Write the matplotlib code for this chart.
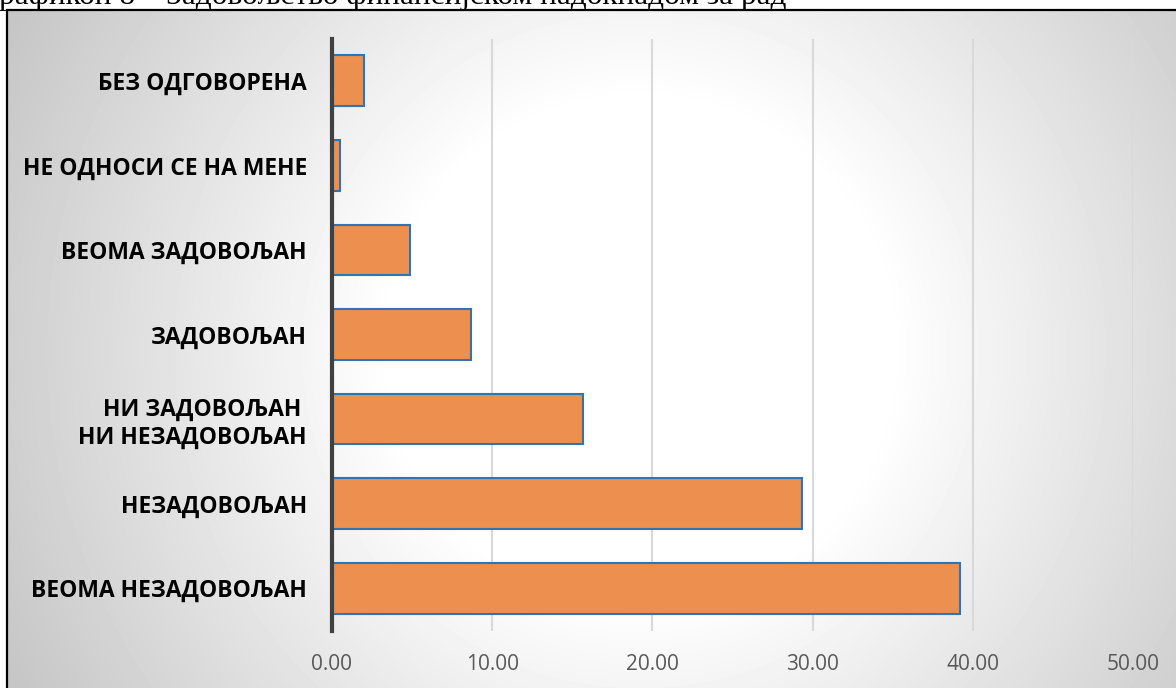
import numpy as np
import matplotlib.pyplot as plt
from matplotlib.patches import Rectangle

categories = ['ВЕОМА НЕЗАДОВОЉАН', 'НЕЗАДОВОЉАН', 'НИ ЗАДОВОЉАН \nНИ НЕЗАДОВОЉАН',
              'ЗАДОВОЉАН', 'ВЕОМА ЗАДОВОЉАН', 'НЕ ОДНОСИ СЕ НА МЕНЕ', 'БЕЗ ОДГОВОРЕНА']
values = [39.2, 29.35, 15.67, 8.68, 4.88, 0.47, 2.0]
ticks = [0, 10, 20, 30, 40, 50]
caption = 'Графикон 8 – Задовољство финансијском надокнадом за рад'

W, H = 1176, 688
fig = plt.figure(figsize=(W / 100, H / 100), dpi=100)
fig.patch.set_facecolor('white')

# radial gray background of the chart area
bg = fig.add_axes([7 / W, 0, 1 - 7 / W, (H - 10) / H])
yy, xx = np.mgrid[10:H, 7:W]
d = np.sqrt((xx - 640.0) ** 2 + (yy - 350.0) ** 2)
v = 1 - 0.23 * np.clip((d - 250) / 470, 0, 1.1)
bg.imshow(v, cmap='gray', vmin=0, vmax=1, aspect='auto', interpolation='bilinear')
bg.set_axis_off()

fig.patches.append(Rectangle((7 / W, -0.1), 1.2, (H - 10) / H + 0.1, transform=fig.transFigure,
                             fill=False, edgecolor='black', linewidth=1.6, zorder=5))

fig.text(-17 / W, 1 - 4 / H, caption, family='Liberation Serif', fontsize=22.5,
         ha='left', va='baseline', color='black')

ax = fig.add_axes([332 / W, (H - 630.5) / H, (1133 - 332) / W, (630.5 - 38.5) / H])
ax.set_facecolor('none')
y = np.arange(len(categories))
ax.barh(y, values, height=0.6, color='#ED8F4E', edgecolor='#2E75B6', linewidth=1.5, zorder=3)
ax.set_xlim(0, 50)
ax.set_ylim(-0.5, 6.5)
ax.set_xticks(ticks)
ax.set_xticklabels([f'{t:.2f}' for t in ticks], family=['Open Sans', 'DejaVu Sans'],
                   fontsize=15, color='#595959')
ax.set_yticks(y)
ax.set_yticklabels(categories, family=['Open Sans', 'DejaVu Sans'], fontsize=16.5,
                   fontweight='bold', color='black', ha='right', multialignment='right')
ax.tick_params(axis='y', length=0, pad=18)
ax.tick_params(axis='x', length=0, pad=17)
ax.grid(axis='x', color='#d9d9d9', linewidth=1.5, zorder=0)
for s in ['top', 'right', 'bottom']:
    ax.spines[s].set_visible(False)
ax.spines['left'].set_color('#404040')
ax.spines['left'].set_linewidth(3)
ax.spines['left'].set_zorder(4)

fig.savefig('out.png', dpi=100)
